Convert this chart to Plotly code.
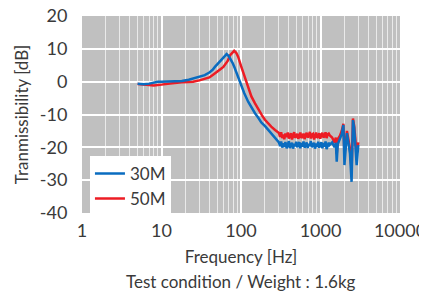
import plotly.graph_objects as go

# ---- 30M series (blue) ----
freq_30m = [5, 6, 7, 8, 9, 10, 12, 15, 18, 22, 25, 30, 35, 40, 44, 47, 52, 57, 62, 66, 70, 74, 78, 82,
            88, 95, 102, 110, 123, 135, 150, 165, 180, 202, 230, 255, 282,
            300, 310, 320, 330, 340, 350, 362, 375, 388, 400, 412, 425, 438, 452, 466, 480, 495, 510,
            526, 542, 558, 575, 593, 611, 630, 650, 670, 690, 712, 734, 756, 780, 804, 829, 854, 880,
            907, 935, 964, 994, 1025, 1056, 1089, 1122, 1157, 1193, 1230, 1268, 1300,
            1400, 1500, 1560, 1600, 1650, 1750, 1850, 1940, 2000, 2080, 2150, 2250, 2350, 2460, 2510,
            2560, 2650, 2750, 2850, 2920, 2990]
db_30m = [-0.6, -0.8, -0.6, -0.3, 0.0, 0.0, 0.1, 0.1, 0.2, 0.6, 1.0, 1.5, 2.0, 2.8, 3.6, 4.5, 5.6, 6.6, 7.8, 8.4, 7.8, 6.9, 5.8, 4.6,
          2.6, 0.5, -1.5, -3.5, -6.1, -7.9, -9.6, -11.0, -12.4, -13.6, -15.3, -16.4, -17.9,
          -18.5, -19.6, -18.2, -20.1, -18.8, -19.9, -18.4, -20.3, -19.0, -18.1, -20.2, -19.1, -18.6, -20.4, -18.9, -19.7, -18.3, -20.0,
          -19.2, -18.4, -20.3, -18.7, -19.8, -18.2, -20.1, -19.0, -18.5, -20.2, -18.9, -19.6, -18.1, -20.0, -19.3, -18.6, -20.4, -18.8,
          -19.9, -18.3, -20.1, -19.0, -18.4, -20.3, -18.7, -19.8, -18.2, -20.5, -19.1, -18.6, -19.3,
          -18.5, -20.0, -18.6, -24.4, -19.0, -17.5, -16.0, -13.2, -25.4, -20.0, -15.7, -18.8, -22.0, -30.5, -20.0,
          -11.7, -14.0, -20.0, -25.4, -22.0, -19.3]

# ---- 50M series (red) ----
freq_50m = [5, 6, 7, 8, 9, 10, 12, 15, 18, 22, 25, 30, 35, 40, 45, 50, 55, 60, 63, 68, 73, 78, 82, 87,
            92, 100, 107, 115, 123, 135, 150, 165, 183, 200, 219, 240, 268,
            300, 310, 320, 330, 340, 350, 362, 375, 388, 400, 412, 425, 438, 452, 466, 480, 495, 510,
            526, 542, 558, 575, 593, 611, 630, 650, 670, 690, 712, 734, 756, 780, 804, 829, 854, 880,
            907, 935, 964, 994, 1025, 1056, 1089, 1122, 1157, 1193, 1230, 1268, 1300,
            1400, 1500, 1560, 1600, 1650, 1750, 1850, 1940, 2000, 2080, 2150, 2250, 2350, 2460, 2510,
            2560, 2650, 2750, 2850, 2920, 2990]
db_50m = [-0.7, -0.8, -1.0, -1.2, -1.1, -0.9, -0.6, -0.3, -0.2, -0.1, 0.0, 0.4, 0.9, 1.3, 2.2, 3.2, 3.8, 4.5, 5.1, 6.3, 8.1, 9.0, 9.4, 8.8,
          7.6, 4.8, 2.6, 0.3, -2.0, -4.5, -6.6, -8.5, -10.2, -11.6, -12.7, -13.7, -14.7,
          -15.6, -16.8, -15.4, -17.2, -16.1, -17.5, -15.8, -16.9, -15.5, -17.3, -16.4, -15.7, -17.6, -16.2, -15.4, -17.1, -16.6, -15.9,
          -17.4, -16.0, -15.5, -17.2, -16.7, -15.8, -17.5, -16.3, -15.6, -17.0, -16.5, -15.3, -17.3, -16.1, -15.9, -17.6, -16.4, -15.5,
          -17.1, -16.8, -15.7, -17.4, -16.2, -15.6, -17.0, -16.6, -15.4, -17.2, -16.0, -15.8, -16.3,
          -17.0, -18.5, -17.0, -22.0, -17.5, -16.5, -15.0, -12.8, -22.0, -18.5, -15.0, -17.8, -20.5, -27.0, -18.0,
          -11.2, -13.5, -19.0, -22.0, -20.0, -18.5]

x_tickvals = [1, 10, 100, 1000, 10000]
x_ticktext = ["1", "10", "100", "1000", "10000"]
x_minor = [m * d for d in [1, 10, 100, 1000] for m in range(2, 10)]
y_tickvals = [20, 10, 0, -10, -20, -30, -40]
y_ticktext = ["20", "10", "0", "-10", "-20", "-30", "-40"]

font_family = "Lato, 'Open Sans', sans-serif"
text_color = "#3a3a3a"

fig = go.Figure()
fig.add_trace(go.Scatter(x=freq_50m, y=db_50m, mode="lines", name="50M",
                         line=dict(color="#ED1C24", width=2.5), legendrank=2))
fig.add_trace(go.Scatter(x=freq_30m, y=db_30m, mode="lines", name="30M",
                         line=dict(color="#0A6CC0", width=2.5), legendrank=1))

# page body adds an 8px offset, so the figure is positioned to account for it
fig.update_layout(
    width=427, height=285,
    margin=dict(l=74, r=35, t=8, b=80, autoexpand=False),
    paper_bgcolor="white",
    plot_bgcolor="#C0C0C0",
    font=dict(family=font_family, size=18, color=text_color),
    showlegend=True,
    legend=dict(x=0.025, y=0.29, xanchor="left", yanchor="top",
                bgcolor="white", borderwidth=0,
                font=dict(size=17, color=text_color),
                tracegroupgap=0, itemwidth=30),
    xaxis=dict(type="log", range=[0, 4], tickvals=x_tickvals, ticktext=x_ticktext,
               showgrid=True, gridcolor="white", gridwidth=2,
               minor=dict(tickvals=x_minor, showgrid=True, gridcolor="#EAEAEA", gridwidth=1.3),
               zeroline=False, showline=False, automargin=False,
               ticklabeloverflow="allow",
               ticks="outside", ticklen=1, tickcolor="rgba(0,0,0,0)",
               title=dict(text="Frequency [Hz]", standoff=11, font=dict(size=17)),
               tickfont=dict(size=18)),
    yaxis=dict(range=[-40, 20], tickvals=y_tickvals, ticktext=y_ticktext,
               showgrid=True, gridcolor="white", gridwidth=2,
               zeroline=False, showline=False, automargin=False,
               ticklabeloverflow="allow",
               ticks="outside", ticklen=10, tickcolor="rgba(0,0,0,0)",
               title=dict(text="Tranmissibility [dB]", standoff=6, font=dict(size=17)),
               tickfont=dict(size=18)),
)

fig.add_annotation(text="Test condition / Weight : 1.6kg", xref="paper", yref="paper",
                   x=0.5, y=-0.35, xanchor="center", yanchor="middle", showarrow=False,
                   font=dict(size=17, color=text_color))

fig.write_html("out.html")
